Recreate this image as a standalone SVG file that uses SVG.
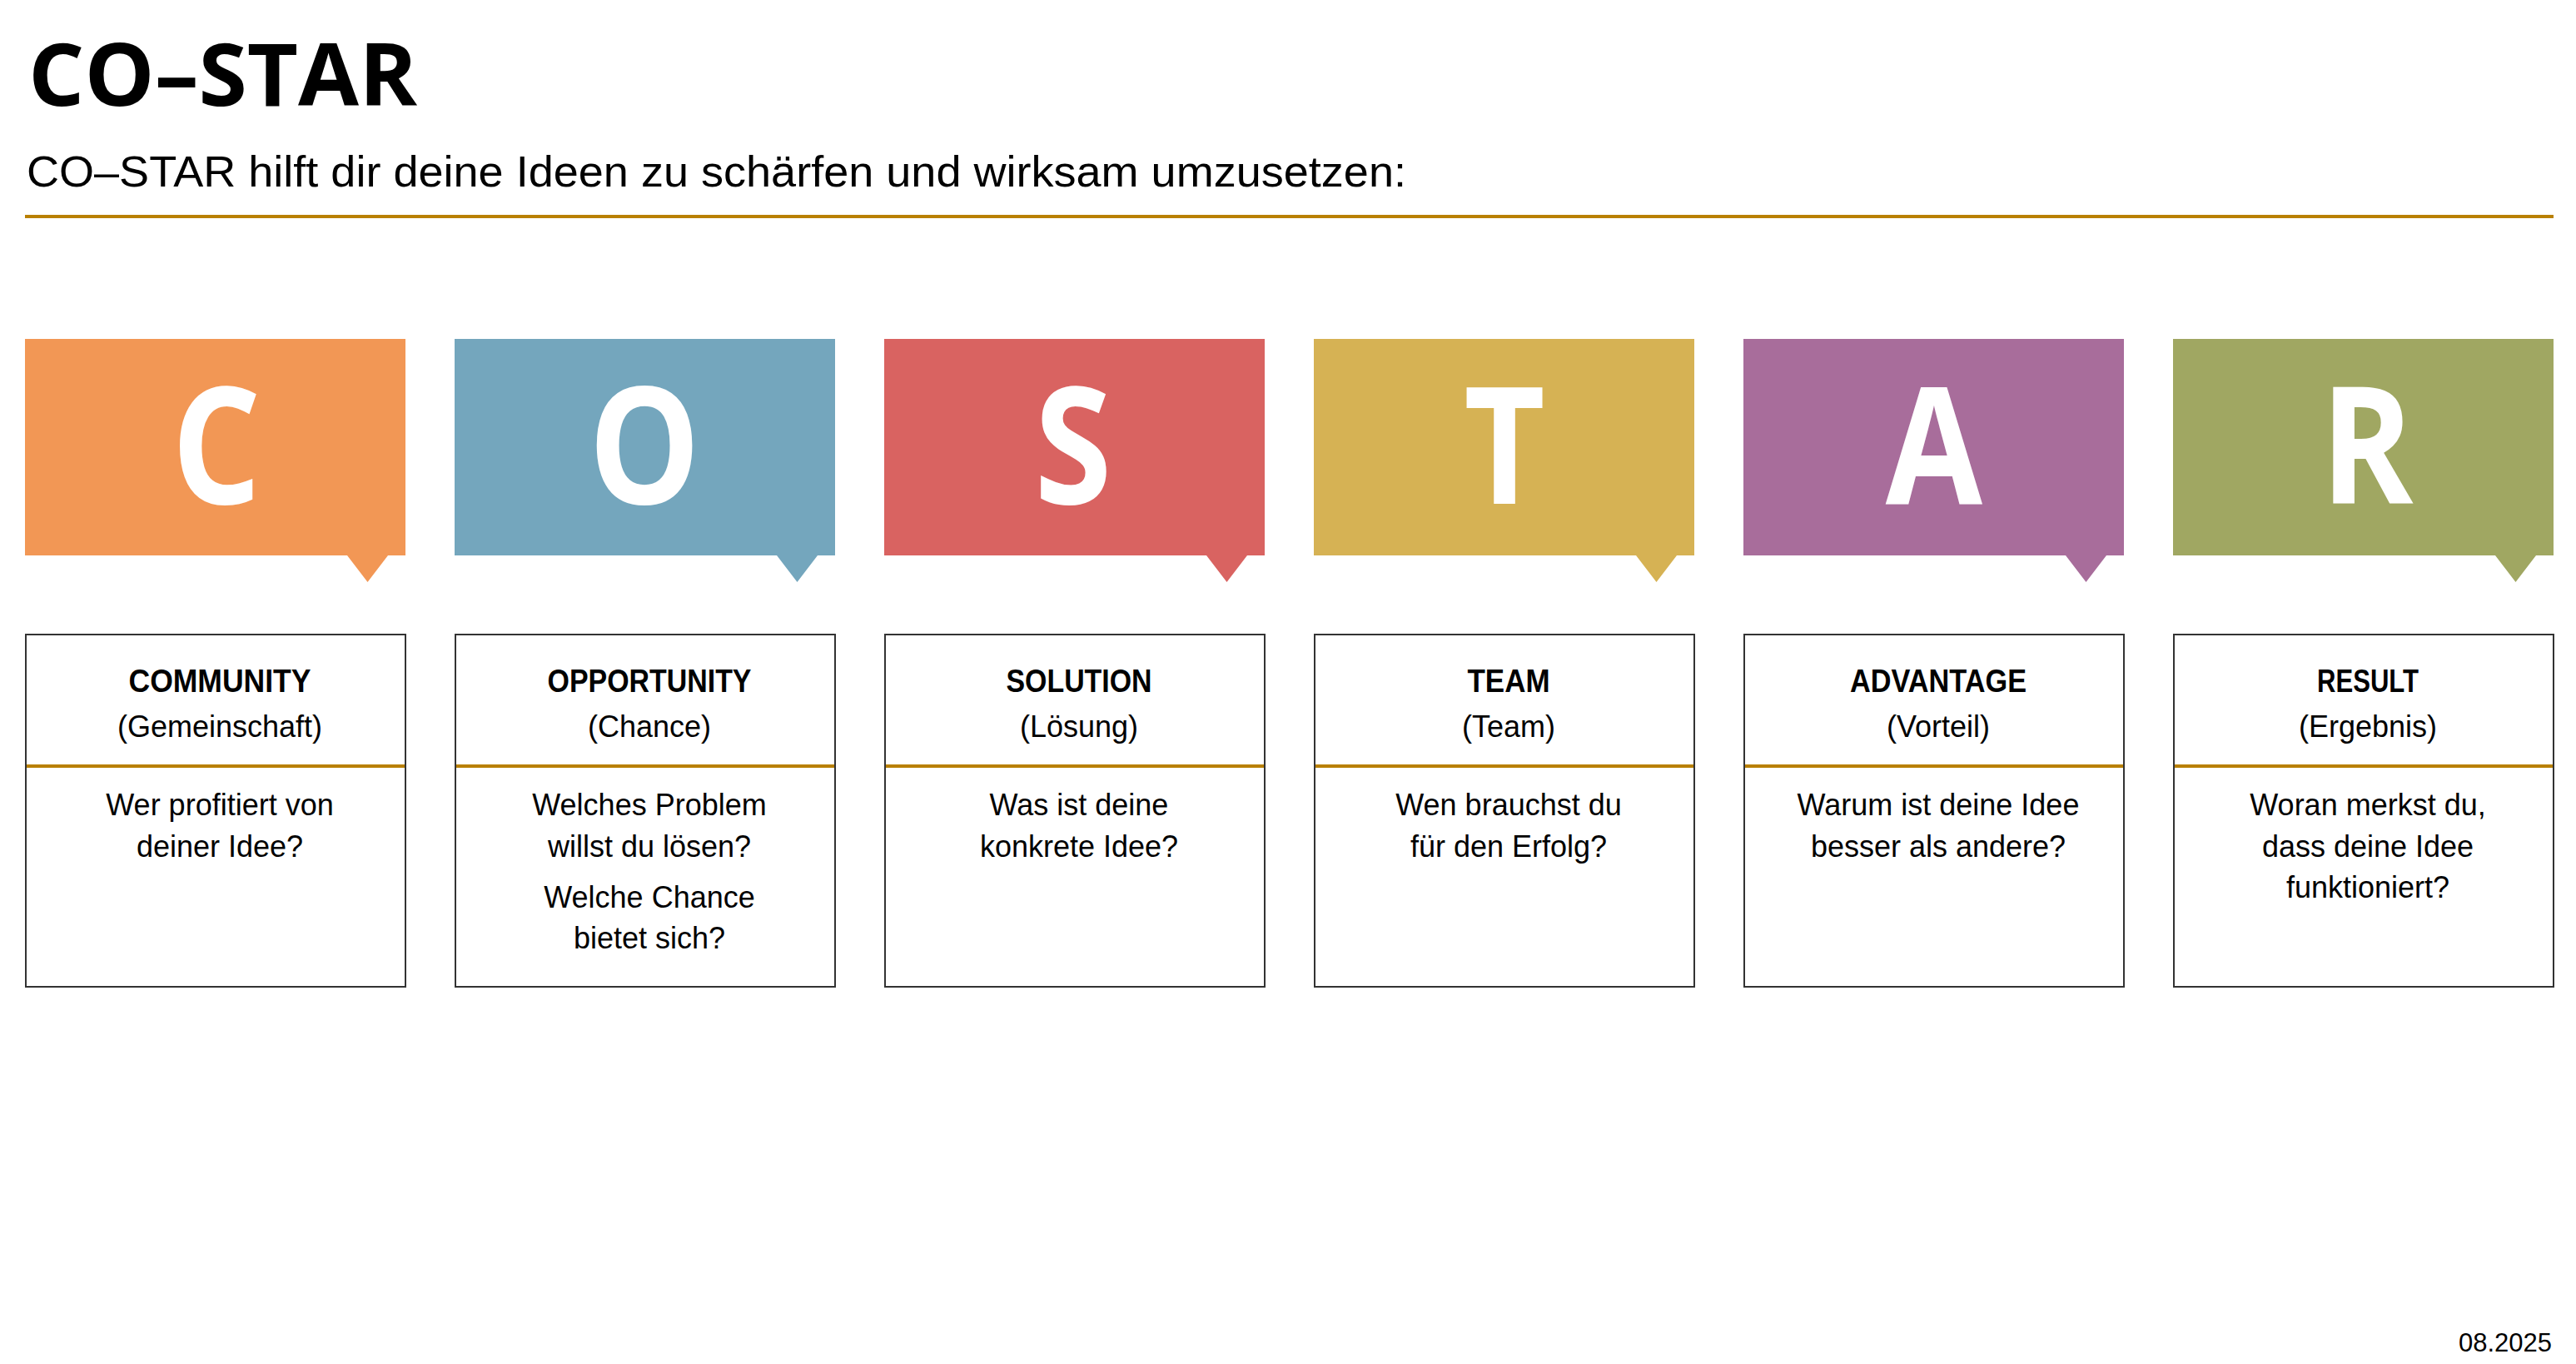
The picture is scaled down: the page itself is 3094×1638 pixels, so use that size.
<svg xmlns="http://www.w3.org/2000/svg" width="3094" height="1638" viewBox="0 0 3094 1638">
<style>
.title{font-family:"Open Sans","Liberation Sans",sans-serif;font-weight:700;font-size:104px;fill:#000}
.sub{font-family:"Liberation Sans",Arial,sans-serif;font-size:52px;fill:#000}
.letter{font-family:"Open Sans","Liberation Sans",sans-serif;font-weight:700;font-size:196px;fill:#fff;text-anchor:middle}
.card{fill:#fff;stroke:#333;stroke-width:2}
.div{stroke:#B98000;stroke-width:4}
.head{font-family:"Liberation Sans",Arial,sans-serif;font-weight:700;font-size:38px;fill:#000;text-anchor:middle}
.txt{font-family:"Liberation Sans",Arial,sans-serif;font-size:36px;fill:#000;text-anchor:middle}
.date{font-family:"Liberation Sans",Arial,sans-serif;font-size:31px;fill:#000;text-anchor:end}
</style>
<rect width="3094" height="1638" fill="#fff"/>
<g id="header">
<text class="title" x="34" y="127" textLength="467" lengthAdjust="spacingAndGlyphs">CO–STAR</text>
<text class="sub" x="32" y="224" textLength="1657" lengthAdjust="spacingAndGlyphs">CO–STAR hilft dir deine Ideen zu schärfen und wirksam umzusetzen:</text>
<rect x="30" y="258" width="3037" height="4" fill="#B98000"/>
</g>
<g id="node-C">
<path d="M30,407H487V667H466L441.5,699L417,667H30Z" fill="#F29755"/>
<text class="letter" transform="translate(260,605) scale(0.86,1)">C</text>
<rect class="card" x="31" y="762" width="456" height="423"/>
<line class="div" x1="32" y1="920" x2="486" y2="920"/>
<text class="head" x="264" y="831" textLength="219" lengthAdjust="spacingAndGlyphs">COMMUNITY</text>
<text class="txt" x="264" y="885">(Gemeinschaft)</text>
<text class="txt" x="264" y="979">Wer profitiert von</text>
<text class="txt" x="264" y="1029">deiner Idee?</text>
</g>
<g id="node-O">
<path d="M546,407H1003V667H982L957.5,699L933,667H546Z" fill="#74A6BD"/>
<text class="letter" transform="translate(774,605) scale(0.86,1)">O</text>
<rect class="card" x="547" y="762" width="456" height="423"/>
<line class="div" x1="548" y1="920" x2="1002" y2="920"/>
<text class="head" x="780" y="831" textLength="245" lengthAdjust="spacingAndGlyphs">OPPORTUNITY</text>
<text class="txt" x="780" y="885">(Chance)</text>
<text class="txt" x="780" y="979">Welches Problem</text>
<text class="txt" x="780" y="1029">willst du lösen?</text>
<text class="txt" x="780" y="1090">Welche Chance</text>
<text class="txt" x="780" y="1139">bietet sich?</text>
</g>
<g id="node-S">
<path d="M1062,407H1519V667H1498L1473.5,699L1449,667H1062Z" fill="#D96361"/>
<text class="letter" transform="translate(1289,605) scale(0.86,1)">S</text>
<rect class="card" x="1063" y="762" width="456" height="423"/>
<line class="div" x1="1064" y1="920" x2="1518" y2="920"/>
<text class="head" x="1296" y="831" textLength="175" lengthAdjust="spacingAndGlyphs">SOLUTION</text>
<text class="txt" x="1296" y="885">(Lösung)</text>
<text class="txt" x="1296" y="979">Was ist deine</text>
<text class="txt" x="1296" y="1029">konkrete Idee?</text>
</g>
<g id="node-T">
<path d="M1578,407H2035V667H2014L1989.5,699L1965,667H1578Z" fill="#D6B254"/>
<text class="letter" transform="translate(1807,605) scale(0.86,1)">T</text>
<rect class="card" x="1579" y="762" width="456" height="423"/>
<line class="div" x1="1580" y1="920" x2="2034" y2="920"/>
<text class="head" x="1812" y="831" textLength="99" lengthAdjust="spacingAndGlyphs">TEAM</text>
<text class="txt" x="1812" y="885">(Team)</text>
<text class="txt" x="1812" y="979">Wen brauchst du</text>
<text class="txt" x="1812" y="1029">für den Erfolg?</text>
</g>
<g id="node-A">
<path d="M2094,407H2551V667H2530L2505.5,699L2481,667H2094Z" fill="#A86D9B"/>
<text class="letter" transform="translate(2323,605) scale(0.86,1)">A</text>
<rect class="card" x="2095" y="762" width="456" height="423"/>
<line class="div" x1="2096" y1="920" x2="2550" y2="920"/>
<text class="head" x="2328" y="831" textLength="212" lengthAdjust="spacingAndGlyphs">ADVANTAGE</text>
<text class="txt" x="2328" y="885">(Vorteil)</text>
<text class="txt" x="2328" y="979">Warum ist deine Idee</text>
<text class="txt" x="2328" y="1029">besser als andere?</text>
</g>
<g id="node-R">
<path d="M2610,407H3067V667H3046L3021.5,699L2997,667H2610Z" fill="#A0A762"/>
<text class="letter" transform="translate(2843,605) scale(0.86,1)">R</text>
<rect class="card" x="2611" y="762" width="456" height="423"/>
<line class="div" x1="2612" y1="920" x2="3066" y2="920"/>
<text class="head" x="2844" y="831" textLength="122" lengthAdjust="spacingAndGlyphs">RESULT</text>
<text class="txt" x="2844" y="885">(Ergebnis)</text>
<text class="txt" x="2844" y="979">Woran merkst du,</text>
<text class="txt" x="2844" y="1029">dass deine Idee</text>
<text class="txt" x="2844" y="1078">funktioniert?</text>
</g>
<g id="connectors"></g>
<text class="date" x="3065" y="1623">08.2025</text>
</svg>
